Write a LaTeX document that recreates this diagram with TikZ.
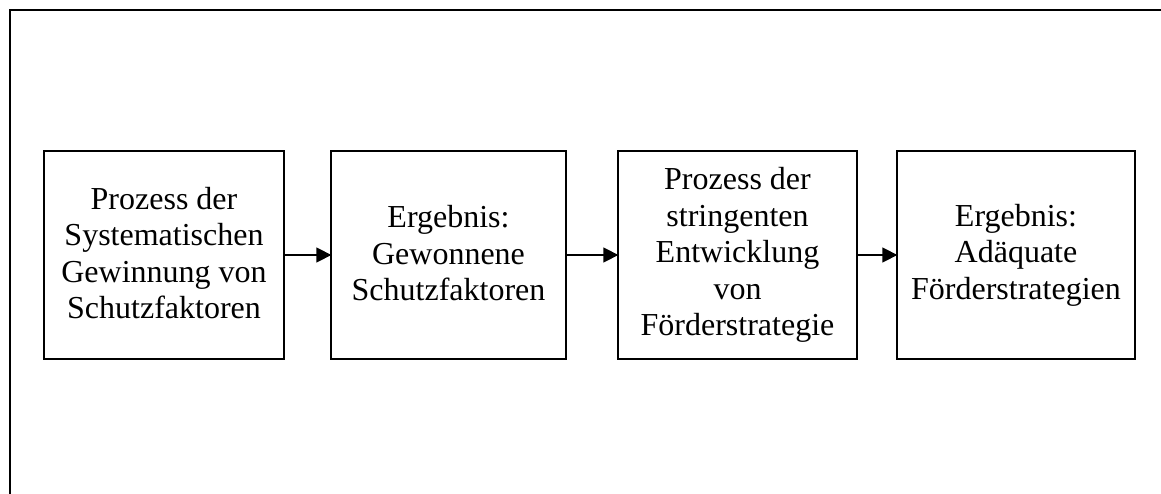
\documentclass[tikz,border=0pt]{standalone}
\usepackage{fontspec}
\setmainfont{Liberation Serif}
\usetikzlibrary{arrows.meta}
\begin{document}
\begin{tikzpicture}[x=1pt,y=-1pt,
  stepbox/.style={draw, line width=1.3pt, align=center, inner sep=0pt,
    minimum height=208pt, font=\fontsize{32}{36.5}\selectfont},
  flow/.style={line width=1.4pt, -{Triangle[length=15pt,width=15pt]}, shorten >=-1pt}]
\useasboundingbox (0,0) rectangle (1161,494);
\begin{scope}
\clip (0,0) rectangle (1161,494);
\draw[line width=2.2pt] (10,10) rectangle (1180,520);
\end{scope}
\node[stepbox, minimum width=240pt] (p1) at (164,255)
  {Prozess der\\Systematischen\\Gewinnung von\\Schutzfaktoren\rule[-4pt]{0pt}{0pt}};
\node[stepbox, minimum width=235pt] (e1) at (448.5,255)
  {Ergebnis:\\Gewonnene\\Schutzfaktoren\rule[-4pt]{0pt}{0pt}};
\node[stepbox, minimum width=239pt] (p2) at (737.5,255)
  {Prozess der\\stringenten\\Entwicklung\\von\\Förderstrategie\rule[-4pt]{0pt}{0pt}};
\node[stepbox, minimum width=238pt] (e2) at (1016,255)
  {Ergebnis:\\Adäquate\\Förderstrategien\rule[-4pt]{0pt}{0pt}};
\draw[flow] (p1) -- (e1);
\draw[flow] (e1) -- (p2);
\draw[flow] (p2) -- (e2);
\end{tikzpicture}
\end{document}
